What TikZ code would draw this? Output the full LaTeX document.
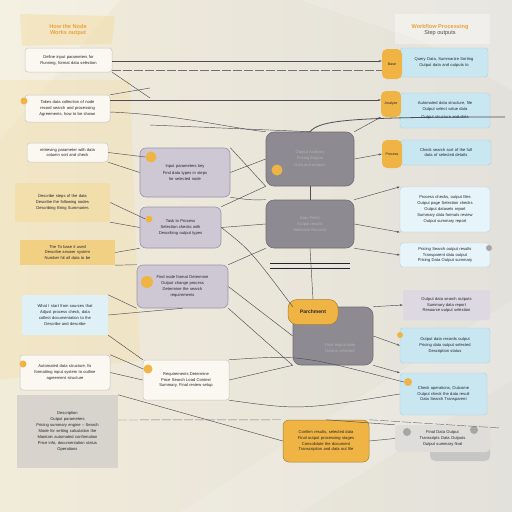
\documentclass[tikz,border=0pt]{standalone}
\usepackage{fontspec}
\setmainfont{Liberation Sans}
\usetikzlibrary{arrows.meta,shapes.geometric}
\definecolor{bgL}{HTML}{F1EBD9}
\definecolor{bgR}{HTML}{E3E1DB}
\definecolor{orng}{HTML}{F0B445}
\definecolor{orngT}{HTML}{E9A23A}
\definecolor{palY}{HTML}{F3DDA3}
\definecolor{midY}{HTML}{F2CD78}
\definecolor{boxW}{HTML}{FBF8F1}
\definecolor{lav}{HTML}{CEC8D5}
\definecolor{lavD}{HTML}{9A93A6}
\definecolor{dgray}{HTML}{8D8B91}
\definecolor{dgrayD}{HTML}{706E75}
\definecolor{lblue}{HTML}{C9E7F1}
\definecolor{lblueB}{HTML}{A9CFDD}
\definecolor{lgray}{HTML}{D2CFCA}
\definecolor{txtc}{HTML}{24232D}
\definecolor{linec}{HTML}{4E4D55}
\tikzset{
  txt/.style={font=\fontsize{4.1}{5.9}\selectfont, text=txtc, align=center, inner sep=2pt},
  wbox/.style={txt, rounded corners=3pt, fill=boxW, draw=gray!45, line width=0.5pt},
  ybox/.style={txt, fill=palY, fill opacity=0.75, text opacity=1},
  mybox/.style={txt, fill=midY, fill opacity=0.85, text opacity=1},
  bbox/.style={txt, rounded corners=3pt, fill=lblue, draw=lblueB, line width=0.4pt},
  lbox/.style={txt, rounded corners=6pt, fill=lav, draw=lavD, line width=0.6pt},
  gbox/.style={txt, rounded corners=8pt, fill=dgray, draw=dgrayD, line width=0.6pt, text=white!70!black},
  obox/.style={txt, rounded corners=6pt, fill=orng, draw=orng!70!black, line width=0.5pt},
  tag/.style={txt, rounded corners=5pt, fill=orng, minimum width=20pt, text=txtc, font=\fontsize{3.6}{5}\selectfont},
  dot/.style={circle, fill=orng, inner sep=0pt, minimum size=7pt},
  gdot/.style={circle, fill=gray!70, inner sep=0pt, minimum size=8pt},
  conn/.style={draw=linec, line width=0.45pt},
  arr/.style={conn, -{Stealth[length=3pt,width=2pt]}},
  dconn/.style={conn, dash pattern=on 9pt off 2pt, draw=linec!80},
  ttl/.style={font=\fontsize{5.6}{7}\selectfont\bfseries, text=orngT, align=center}
}
\begin{document}
\begin{tikzpicture}[x=1pt,y=-1pt]
\useasboundingbox (0,0) rectangle (512,512);
% background
\shade[left color=bgL, right color=bgR] (0,0) rectangle (512,512);
\fill[white, opacity=0.25] (0,0) -- (120,0) -- (0,140) -- cycle;
\fill[white, opacity=0.18] (300,0) -- (512,0) -- (512,90) -- (420,40) -- cycle;
\fill[white, opacity=0.15] (180,512) -- (512,300) -- (512,380) -- (300,512) -- cycle;
\fill[palY, opacity=0.35] (0,80) -- (130,80) -- (140,360) -- (0,380) -- cycle;

% titles
\fill[palY, opacity=0.5] (20,14) -- (115,16) -- (112,44) -- (22,46) -- cycle;
\node[ttl] (t1) at (68,30) {How the Node\\[-1pt]Works output};
\fill[white, opacity=0.35] (395,14) rectangle (490,44);
\node[ttl] (t2) at (440,30) {Workflow Processing\\[-1pt]{\color{txtc!80}\mdseries Step outputs}};

% left column
\node[wbox, minimum width=87pt, minimum height=24pt, text width=81pt] (L1) at (68.5,60) {Define input parameters for\\ Running, format data selection};
\node[wbox, minimum width=85pt, minimum height=27pt, text width=80pt] (L2) at (67.5,108.5) {Takes data collection of node\\ record search and processing\\ Agreements, how to be shown};
\node[dot] (d2) at (24,101) {};
\node[wbox, minimum width=81pt, minimum height=19pt, text width=76pt] (L3) at (67.5,152.5) {retrieving parameter with data\\ column sort and check};
\node[ybox, minimum width=95pt, minimum height=39pt, text width=85pt] (L4) at (62.5,202.5) {Describe steps of the data\\ Describe the following nodes\\ Describing Bring Summaries};
\node[mybox, minimum width=95pt, minimum height=25pt, text width=85pt] (L5) at (67.5,252.5) {The To base it used\\ Describe answer system\\ Number hit all data to be};
\node[txt, rounded corners=2pt, fill=lblue!60!white, minimum width=86pt, minimum height=40pt, text width=82pt] (L6) at (65,315) {What I start from sources that\\ Adjust process check, data\\ collect documentation to the\\ Describe and describe};
\node[wbox, minimum width=90pt, minimum height=35pt, text width=85pt] (L7) at (65,372.5) {Automated data structure, fix\\ formatting input system to outline\\ agreement structure};
\node[dot] (d7) at (23,364) {};
\node[txt, fill=lgray, fill opacity=0.8, text opacity=1, minimum width=101pt, minimum height=73pt, text width=95pt] (L8) at (67.5,431.5) {Description\\ Output parameters\\ Pricing summary engine -- Search\\ Mode for setting calculation the\\ Maintain automated confirmation\\ Price info, documentation status\\ Operations};

% middle column
\node[lbox, minimum width=90pt, minimum height=49pt, text width=82pt] (M1) at (185,172.5) {Input parameters key\\[1pt] Find data types in steps\\ for selected node};
\node[dot, minimum size=11pt] (dm1) at (151,157) {};
\node[lbox, minimum width=81pt, minimum height=41pt, text width=76pt] (M2) at (180.5,227.5) {Task to Process\\ Selection checks with\\ Describing output types};
\node[dot] (dm2) at (149,219) {};
\node[lbox, minimum width=91pt, minimum height=43pt, text width=82pt] (M3) at (182.5,286.5) {Find node format Determine\\ Output change process\\ Determine the search\\ requirements};
\node[dot, minimum size=12pt] (dm3) at (147,282) {};
\node[wbox, minimum width=86pt, minimum height=40pt, text width=80pt] (M4) at (186,380) {Requirements Determine\\ Price Search Load Context\\ Summary, Final review setup};
\node[dot, minimum size=9pt] (dm4) at (148,369) {};

% center column
\node[gbox, minimum width=88pt, minimum height=54pt] (C1) at (310,159) {Output Analysis\\ Pricing Engine\\[2pt] Data and outputs};
\node[dot, minimum size=11pt] (dc1) at (277,170) {};
\node[gbox, minimum width=88pt, minimum height=48pt] (C2) at (310,224) {Data Fetch\\ Output results\\ Selection Records};
\node[txt, minimum width=90pt] (C2b) at (310,266) {\rule[0.6pt]{80pt}{0.3pt}\\[-1pt]\rule[0.6pt]{80pt}{0.3pt}};
\node[gbox, minimum width=80pt, minimum height=58pt] (C3) at (333,336) {};
\node[obox, minimum width=50pt, minimum height=25pt, rounded corners=9pt, font=\fontsize{5}{6}\selectfont\bfseries] (C3t) at (313,312) {Parchment};
\node[txt, text=white!70!black] (C3x) at (340,348) {Final output data\\ Data is selected};
\node[obox, minimum width=86pt, minimum height=42pt, text width=82pt] (C4) at (326,441) {Confirm results, selected data\\ Final output processing stages\\ Consolidate the document\\ Transcription and data out file};

% right column
\node[bbox, minimum width=88pt, minimum height=29pt, text width=82pt] (R1) at (444,62.5) {Query Data, Summarize Sorting\\ Output data and outputs to};
\node[tag, minimum height=30pt] (T1) at (392,64) {Base};
\node[bbox, minimum width=90pt, minimum height=35pt, text width=84pt] (R2) at (445,110.5) {Automated data structure, file\\ Output select value data\\[3pt] Output structure and data};
\node[tag, minimum height=26pt] (T2) at (391,104) {Analyze};
\node[bbox, minimum width=90pt, minimum height=25pt, text width=84pt] (R3) at (446,152.5) {Check search sort of the full\\ data of selected details};
\node[tag, minimum height=28pt] (T3) at (392,154) {Process};
\node[bbox, fill=lblue!45!white, minimum width=90pt, minimum height=45pt, text width=84pt] (R4) at (445,209.5) {Process checks, output files\\ Output page Selection checks\\ Output datasets report\\ Summary data formats review\\ Output summary report};
\node[bbox, fill=lblue!45!white, minimum width=90pt, minimum height=24pt, text width=84pt] (R5) at (445,255) {Pricing Search output results\\ Transparent data output\\ Pricing Data Output summary};
\node[gdot, minimum size=6pt] (g5) at (489,248) {};
\node[txt, rounded corners=2pt, fill=lav!70!white, minimum width=87pt, minimum height=30pt, text width=82pt] (R6) at (446.5,305) {Output data search outputs\\ Summary data report\\ Resource output selection};
\node[bbox, minimum width=90pt, minimum height=35pt, text width=84pt] (R7) at (445,345.5) {Output data records output\\ Pricing data output selected\\ Description status};
\node[dot, minimum size=6pt] (d7r) at (400,335) {};
\node[bbox, minimum width=87pt, minimum height=42pt, text width=82pt] (R8) at (443.5,394) {Check operations, Outcome\\ Output check the data result\\ Data Search Transparent};
\node[dot, minimum size=8pt] (d8r) at (408,382) {};
\node[txt, rounded corners=5pt, fill=gray!45, minimum width=60pt, minimum height=28pt] (R9b) at (460,447) {};
\node[txt, rounded corners=4pt, fill=lgray!70!white, minimum width=95pt, minimum height=27pt, text width=86pt] (R9) at (442.5,438.5) {Final Data Output\\ Transcripts Data Outputs\\ Output summary final};
\node[gdot] (g9a) at (407,432) {};
\node[gdot] (g9b) at (474,430) {};

% connectors
\draw[arr] (L1.east |- 0,61) -- (T1.west |- 0,61);
\draw[dconn] (L1.east |- 0,70) -- (T1.west |- 0,70);
\draw[conn] (L1.south east) -- (150,98);
\draw[conn] (L2.north east) -- (150,88);
\draw[arr] (L2.east |- 0,100) -- (T2.west |- 0,100);
\draw[conn] (L2.east |- 0,112) .. controls (180,115) and (230,128) .. (C1.north west);
\draw[conn] (150,125) -- (C1.north);
\draw[arr] (C1.north east) -- (T2.south west);
\draw[conn, line width=0.8pt] (C1.north) .. controls (320,120) and (350,117) .. (505,117);
\draw[arr] (C1.east) -- (T3.west);
\draw[conn] (L3.east) -- (dm1.west);
\draw[conn] (L3.south east) -- (M1.west);
\draw[conn] (M1.east) -- (C1.west);
\draw[conn] (M1.north east) -- (C1.south west);
\draw[conn] (M1.south east) .. controls (250,200) .. (C2.north west);
\draw[conn] (L4.east) -- (dm2.west);
\draw[conn] (L4.south east) -- (M2.west);
\draw[conn] (L5.east) -- (M2.south west);
\draw[conn] (L5.south east) -- (M3.north west);
\draw[conn] (M2.east) -- (C2.west);
\draw[conn] (M2.north east) -- (C1.south west);
\draw[arr] (C2.north east) -- (R4.north west);
\draw[arr] (C2.east) -- (R4.south west);
\draw[arr] (C2.south east) -- (R5.west);
\draw[conn] (C3.north west) .. controls (250,250) .. (M2.east);
\draw[conn] (L6.north east) -- (M3.south west);
\draw[conn] (L6.east) -- (M3.south);
\draw[conn] (L6.south east) -- (M4.north west);
\draw[conn] (M3.east) -- (C3.west);
\draw[conn] (M3.north east) -- (C2.south west);
\draw[conn] (M3.south east) -- (C3.south west);
\draw[arr] (C3.north east) -- (R6.west);
\draw[arr] (C3.east) -- (R7.west);
\draw[arr] (C3.south east) -- (R8.north west);
\draw[conn] (L7.north east) -- (dm4.west);
\draw[conn] (L7.east) -- (M4.west);
\draw[conn] (M4.east) -- (C3.south west);
\draw[conn] (M4.south east) .. controls (300,410) .. (R8.west);
\draw[conn] (M4.north east) .. controls (300,355) .. (d8r.west);
\draw[dconn] (L8.east |- 0,420) -- (C4.north west);
\draw[dconn] (C4.north east) -- (500,428);
\draw[conn] (L8.north east) -- (C4.west);
\draw[conn] (C4.east) -- (R9.west);
\draw[conn] (C4.north) -- (R9.north west);
\draw[conn] (C1.south) -- (C2.north);
\draw[conn] (C2.south) -- (C3t.north);
\end{tikzpicture}
\end{document}
